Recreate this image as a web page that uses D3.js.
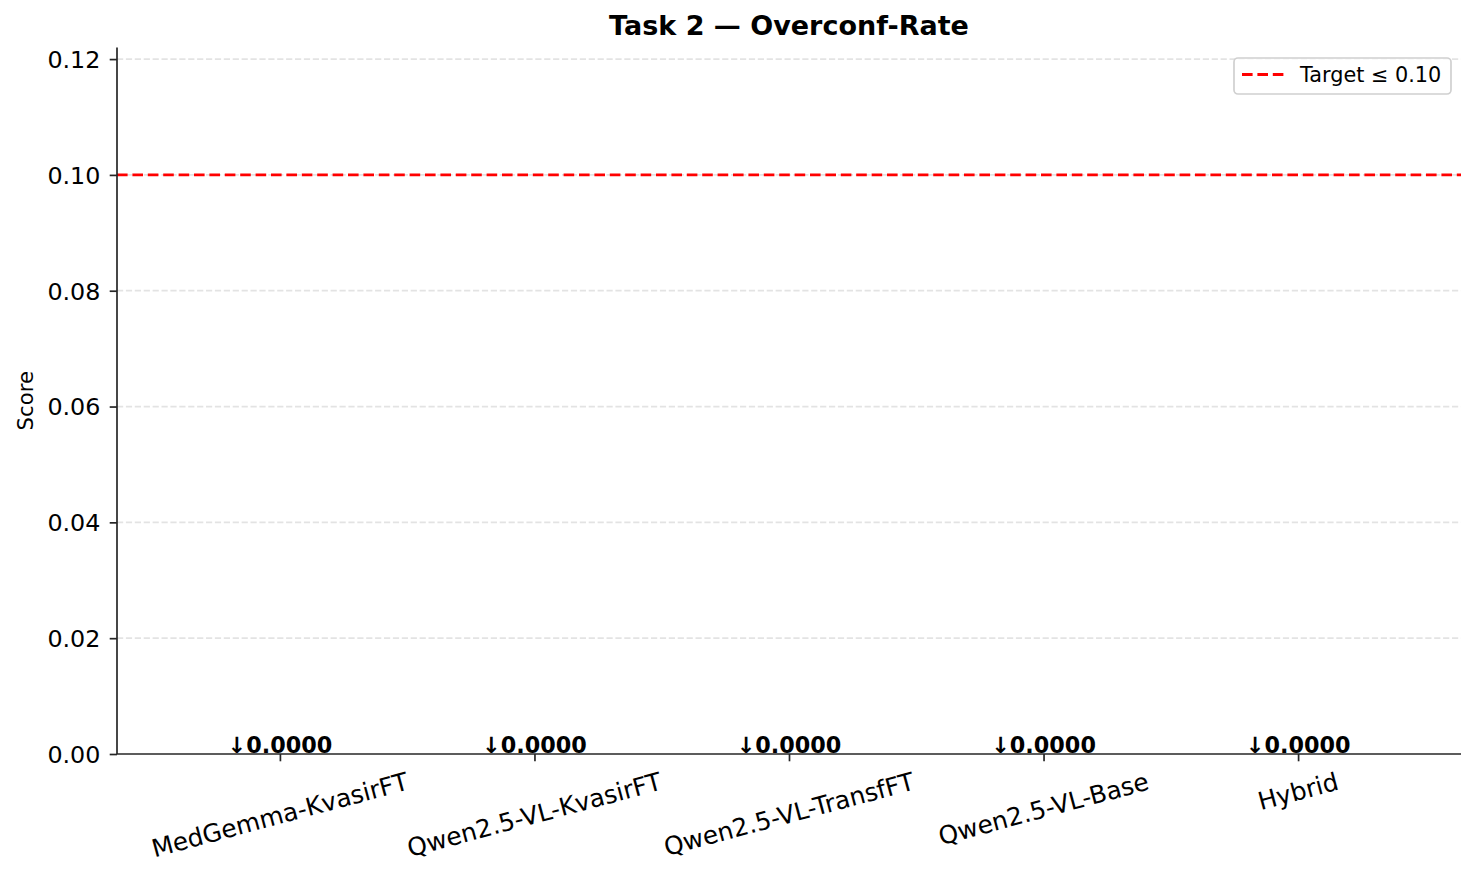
<!DOCTYPE html>
<html>
<head>
<meta charset="utf-8">
<script src="https://cdn.jsdelivr.net/npm/d3@7"></script>
<style>
  body { margin: 0; background: #fff; }
  svg { display: block; font-family: "DejaVu Sans", sans-serif; }
</style>
</head>
<body>
<div id="graph1"></div>
<script>
// chart data
const models = ["MedGemma-KvasirFT", "Qwen2.5-VL-KvasirFT", "Qwen2.5-VL-TransfFT", "Qwen2.5-VL-Base", "Hybrid"];
const overconfRate = [0.0, 0.0, 0.0, 0.0, 0.0];
const yTicks = [0.00, 0.02, 0.04, 0.06, 0.08, 0.10, 0.12];
const targetValue = 0.10;
const targetLabel = "Target \u2264 0.10";
const chartTitle = "Task 2 \u2014 Overconf-Rate";

const width = 1476, height = 876;
const plot = {left: 117, right: 1461, top: 47.5, bottom: 754};

let svg = d3.select("#graph1")
    .append("svg")
    .attr("width", width)
    .attr("height", height);

// x is a linear scale over category index (like matplotlib bar positions)
let x = d3.scaleLinear()
    .domain([-0.64, models.length - 1 + 0.64])
    .range([plot.left, plot.right]);

let y = d3.scaleLinear()
    .domain([0, 0.122])
    .range([plot.bottom, plot.top]);

// dashed grid lines
svg.append("g")
    .selectAll("line")
    .data(yTicks.filter(d => d > 0))
    .enter()
    .append("line")
    .attr("x1", plot.left)
    .attr("x2", plot.right)
    .attr("y1", d => y(d))
    .attr("y2", d => y(d))
    .attr("stroke", "#e3e3e3")
    .attr("stroke-width", 1.7)
    .attr("stroke-dasharray", "6.2,2.7");

// bars (all zero height here)
svg.append("g")
    .selectAll("rect")
    .data(overconfRate)
    .enter()
    .append("rect")
    .attr("x", (d, i) => x(i - 0.4))
    .attr("width", x(0.8) - x(0))
    .attr("y", d => y(d))
    .attr("height", d => y(0) - y(d))
    .attr("fill", "#4c72b0");

// target line
svg.append("line")
    .attr("x1", plot.left)
    .attr("x2", plot.right)
    .attr("y1", y(targetValue))
    .attr("y2", y(targetValue))
    .attr("stroke", "#ff0000")
    .attr("stroke-width", 2.9)
    .attr("stroke-dasharray", "10.6,4.8");

// y axis
let yAxis = svg.append("g")
    .attr("transform", `translate(${plot.left},0)`)
    .call(d3.axisLeft(y).tickValues(yTicks).tickFormat(d3.format(".2f")).tickSize(7.3).tickPadding(9.3));
yAxis.select(".domain").attr("stroke", "#262626").attr("stroke-width", 1.7)
    .attr("d", `M0,${plot.top}V${plot.bottom}`);
yAxis.selectAll(".tick line").attr("stroke", "#262626").attr("stroke-width", 1.7);
yAxis.selectAll(".tick text")
    .attr("fill", "#000")
    .attr("dy", "0.35em")
    .style("font-size", "23.8px")
    .style("font-family", "DejaVu Sans");

// x axis
let xAxis = svg.append("g")
    .attr("transform", `translate(0,${plot.bottom})`)
    .call(d3.axisBottom(x).tickValues(d3.range(models.length)).tickFormat("").tickSize(7.3));
xAxis.select(".domain").attr("stroke", "#262626").attr("stroke-width", 1.7)
    .attr("d", `M${plot.left},0H${plot.right}`);
xAxis.selectAll(".tick line").attr("stroke", "#262626").attr("stroke-width", 1.7);

// rotated category labels, centred under the tick with the rotated box top at a fixed line
const fs = 24.8, rot = 15 * Math.PI / 180;
let xLabels = svg.append("g")
    .selectAll("text")
    .data(models)
    .enter()
    .append("text")
    .style("font-size", fs + "px")
    .attr("text-anchor", "middle")
    .attr("dominant-baseline", "central")
    .attr("fill", "#000")
    .text(d => d);
xLabels.attr("transform", function(d, i) {
    let L = this.getComputedTextLength();
    let halfH = (L * Math.sin(rot) + fs * 1.164 * Math.cos(rot)) / 2;
    return `translate(${x(i)},${767 + halfH}) rotate(-15)`;
});

// value labels above bars
svg.append("g")
    .selectAll("text")
    .data(overconfRate)
    .enter()
    .append("text")
    .attr("x", (d, i) => x(i))
    .attr("y", d => y(d) - 1)
    .attr("text-anchor", "middle")
    .style("font-size", "22.3px")
    .style("font-weight", "bold")
    .text(d => "\u2193" + d.toFixed(4));

// y axis label
svg.append("text")
    .attr("transform", `translate(33,${(plot.top + plot.bottom) / 2}) rotate(-90)`)
    .attr("text-anchor", "middle")
    .style("font-size", "21.2px")
    .text("Score");

// title
svg.append("text")
    .attr("x", (plot.left + plot.right) / 2)
    .attr("y", 35)
    .attr("text-anchor", "middle")
    .style("font-size", "27px")
    .style("font-weight", "bold")
    .text(chartTitle);

// legend
let legend = svg.append("g");
legend.append("rect")
    .attr("x", 1234)
    .attr("y", 58)
    .attr("width", 217)
    .attr("height", 36)
    .attr("rx", 4)
    .attr("fill", "#fff")
    .attr("fill-opacity", 0.8)
    .attr("stroke", "#d0d0d0")
    .attr("stroke-width", 1.7);
legend.append("line")
    .attr("x1", 1242)
    .attr("x2", 1284)
    .attr("y1", 74.5)
    .attr("y2", 74.5)
    .attr("stroke", "#ff0000")
    .attr("stroke-width", 2.9)
    .attr("stroke-dasharray", "10.6,4.8");
legend.append("text")
    .attr("x", 1300)
    .attr("y", 82.3)
    .style("font-size", "20.8px")
    .text(targetLabel);
</script>
</body>
</html>
